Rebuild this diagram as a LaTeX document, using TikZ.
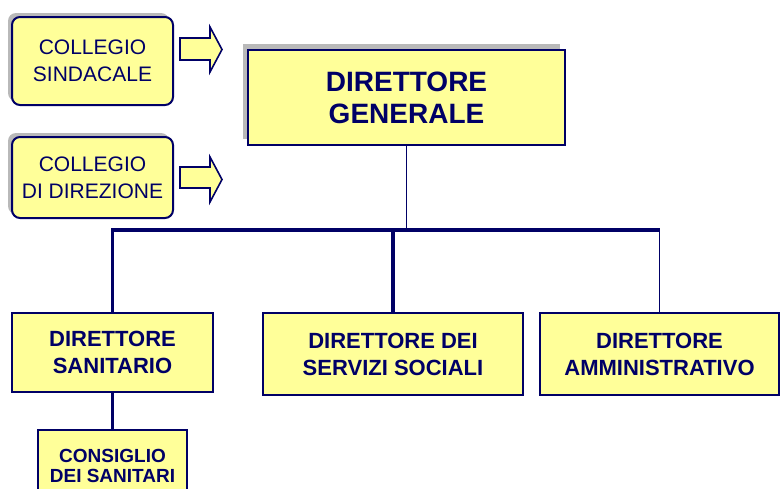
\documentclass[tikz,border=0pt]{standalone}
\usepackage{fontspec}
\setmainfont{Liberation Sans}
\usetikzlibrary{shadows}
\definecolor{navy}{HTML}{000066}
\definecolor{paleyellow}{HTML}{FFFF99}

\tikzset{
  orgbox/.style={draw=navy,fill=paleyellow,line width=1pt,text=navy,align=center,inner sep=0pt},
  collbox/.style={orgbox,rounded corners=4pt,
        general shadow={fill=gray!55,shadow xshift=-2pt,shadow yshift=2pt}},
  blockarrow/.style={draw=navy,fill=paleyellow,line width=0.8pt,line join=miter},
  thickline/.style={draw=navy,line width=1.6pt},
  thinline/.style={draw=navy,line width=0.6pt}
}

\begin{document}
\begin{tikzpicture}[x=0.5pt,y=-0.5pt]

\useasboundingbox (0,0) rectangle (780,488);
\clip (0,0) rectangle (780,488);

%% left column: the two colleges
\node[collbox,minimum width=80.5pt,minimum height=44pt,
      font=\fontsize{10.5}{13.5}\selectfont] (sind) at (92.5,61) {COLLEGIO\\SINDACALE};
\node[collbox,minimum width=80.5pt,minimum height=40.5pt,
      font=\fontsize{10.5}{13.5}\selectfont] (dire) at (92.5,177.5) {COLLEGIO\\DI DIREZIONE};

\draw[blockarrow] (180,38) -- (210,38) -- (210,27) -- (222,49.5) -- (210,72) -- (210,60) -- (180,60) -- cycle;
\draw[blockarrow] (180,167) -- (210,167) -- (210,157) -- (222,179.5) -- (210,202) -- (210,188) -- (180,188) -- cycle; %% lower arrow

%% top
\node[orgbox,minimum width=158.5pt,minimum height=47.5pt,line width=1.3pt,
      general shadow={fill=gray!55,shadow xshift=-2.5pt,shadow yshift=3pt},
      font=\bfseries\fontsize{14}{16}\selectfont] (dg) at (406.5,97.5) {DIRETTORE\\GENERALE};

%% second level
\node[orgbox,minimum width=100.5pt,minimum height=39.5pt,
      font=\bfseries\fontsize{11}{13.5}\selectfont] (ds) at (112.5,352.5) {DIRETTORE\\SANITARIO};
\node[orgbox,minimum width=130pt,minimum height=41pt,
      font=\bfseries\fontsize{11}{13.5}\selectfont] (dss) at (393,354) {DIRETTORE DEI\\SERVIZI SOCIALI};
\node[orgbox,minimum width=119.5pt,minimum height=41pt,
      font=\bfseries\fontsize{11}{13.5}\selectfont] (da) at (659.5,354) {DIRETTORE\\AMMINISTRATIVO};

\node[orgbox,minimum width=74.5pt,minimum height=36pt,line width=1.3pt,
      font=\bfseries\fontsize{9.5}{10}\selectfont] (cs) at (112.5,466) {CONSIGLIO\\DEI SANITARI};

%% connectors
\coordinate (bus) at (405,230);
\draw[thinline] (dg.south) -- (dg.south |- bus);
\draw[thickline] (ds.north) |- (dss.north |- bus) -- (dss.north);
\draw[thickline] (dss.north |- bus) -- (da.north |- bus);
\draw[thinline] (da.north |- bus) -- (da.north);
\draw[thickline] (ds.south) -- (cs.north);

\end{tikzpicture}
\end{document}
